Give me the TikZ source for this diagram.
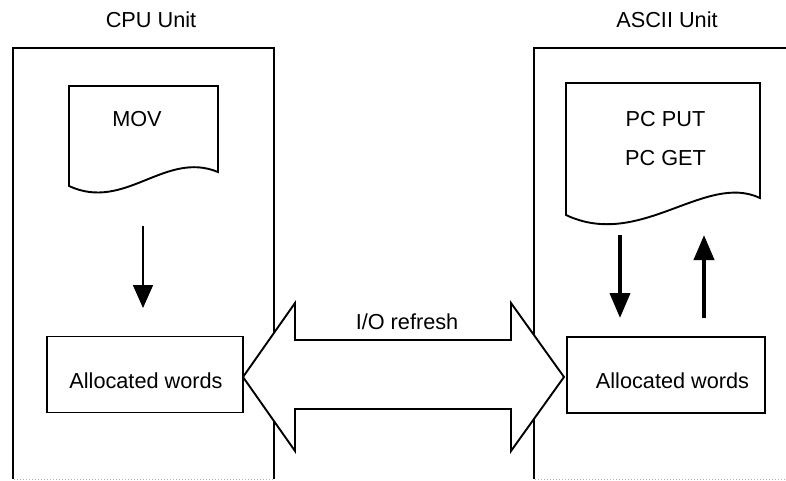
\documentclass[tikz,border=0pt]{standalone}
\usepackage{fontspec}
\setmainfont{Liberation Sans}
\usetikzlibrary{arrows.meta}
\begin{document}
\begin{tikzpicture}[x=1pt,y=-1pt,
  outline/.style={draw=black,line width=1.9pt,line join=miter},
  txt/.style={inner sep=0pt,anchor=base,font=\fontsize{21.7}{26}\selectfont},
  thinarrow/.style={line width=1.6pt,-{Triangle[length=23pt,width=20pt]}},
  thickarrow/.style={line width=4pt,-{Triangle[length=25pt,width=20pt]}},
  edge/.style={draw=black!30,line width=1pt,dotted}]
\useasboundingbox (0,0) rectangle (786,480);
% unit frames
\draw[outline] (13,479) -- (13,48) -- (274,48) -- (274,479);
\draw[outline] (790,48) -- (534,48) -- (534,479);
\draw[edge] (14,479) -- (273,479);
\draw[edge] (535,479) -- (786,479);
\node[txt] (cpu) at (151,27) {CPU Unit};
\node[txt] (ascii) at (667,27) {ASCII Unit};
% documents
\draw[outline,fill=white] (69,186) -- (69,86) -- (218,86) -- (218,172)
  .. controls (165,150) and (125,212) .. (69,186) -- cycle;
\node[txt] (mov) at (137,126) {MOV};
\draw[outline,fill=white] (566,215) -- (566,83) -- (760,83) -- (760,198)
  .. controls (705,172) and (640,250) .. (566,215) -- cycle;
\node[txt] (put) at (665.5,126) {PC PUT};
\node[txt] (get) at (665.5,165) {PC GET};
% allocated words boxes
\node[outline,minimum width=196pt,minimum height=76pt,inner sep=0pt] (lw) at (145,374.5) {};
\node[txt] (lwt) at (146,388) {Allocated words};
\node[outline,minimum width=198pt,minimum height=76pt,inner sep=0pt] (rw) at (666,375) {};
\node[txt] (rwt) at (672.5,388) {Allocated words};
% arrows
\coordinate (a1s) at (143,226);
\coordinate (a1e) at (143,308);
\draw[thinarrow] (a1s) -- (a1e);
\coordinate (a2s) at (620,235);
\coordinate (a2e) at (620,318);
\draw[thickarrow] (a2s) -- (a2e);
\coordinate (a3s) at (704,318);
\coordinate (a3e) at (704,235);
\draw[thickarrow] (a3s) -- (a3e);
% I/O refresh double arrow
\coordinate (lt) at (243,377);
\coordinate (rt) at (564,377);
\draw[outline,fill=white] (lt) -- (295,303) -- (295,340) -- (511,340) -- (511,303)
  -- (rt) -- (511,451) -- (511,409) -- (295,409) -- (295,451) -- cycle;
\node[txt] (io) at (407,329) {I/O refresh};
\end{tikzpicture}
\end{document}
